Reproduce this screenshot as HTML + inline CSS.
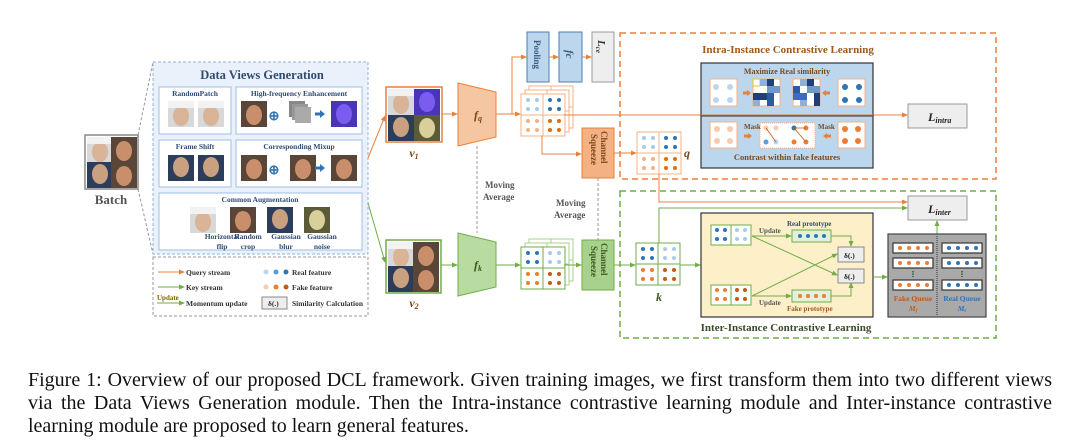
<!DOCTYPE html>
<html><head><meta charset="utf-8"><style>
body{margin:0;background:#fff;width:1080px;height:447px;overflow:hidden;position:relative}
svg{position:absolute;left:0;top:0}
.cap{position:absolute;left:28px;width:1024px;font-family:"Liberation Serif",serif;font-size:20px;line-height:23px;color:#111;white-space:nowrap}
.j{text-align:justify;text-align-last:justify;white-space:normal}
text{font-family:"Liberation Serif",serif;font-weight:bold}
</style></head><body>
<svg width="1080" height="447" viewBox="0 0 1080 447">
<defs>
<marker id="ao" markerWidth="6" markerHeight="6" refX="5" refY="3" orient="auto" markerUnits="userSpaceOnUse"><path d="M0,0.5L6,3L0,5.5z" fill="#e8803c"/></marker>
<marker id="ag" markerWidth="6" markerHeight="6" refX="5" refY="3" orient="auto" markerUnits="userSpaceOnUse"><path d="M0,0.5L6,3L0,5.5z" fill="#70ad47"/></marker>
<g id="gq">
<rect x="0" y="0" width="44" height="42" fill="#fff" stroke="currentColor" stroke-width="1"/>
<line x1="22" y1="0" x2="22" y2="42" stroke="currentColor"/><line x1="0" y1="21" x2="44" y2="21" stroke="currentColor"/>
<g fill="#a9cbe9"><circle cx="7" cy="6" r="2"/><circle cx="16" cy="6" r="2"/><circle cx="7" cy="15" r="2"/><circle cx="16" cy="15" r="2"/></g>
<g fill="#2e75b6"><circle cx="29" cy="6" r="2"/><circle cx="38" cy="6" r="2"/><circle cx="29" cy="15" r="2"/><circle cx="38" cy="15" r="2"/></g>
<g fill="#f4b183"><circle cx="7" cy="27" r="2"/><circle cx="16" cy="27" r="2"/><circle cx="7" cy="36" r="2"/><circle cx="16" cy="36" r="2"/></g>
<g fill="#e46c0a"><circle cx="29" cy="27" r="2"/><circle cx="38" cy="27" r="2"/><circle cx="29" cy="36" r="2"/><circle cx="38" cy="36" r="2"/></g>
</g>
<g id="gk">
<rect x="0" y="0" width="44" height="42" fill="#fff" stroke="currentColor" stroke-width="1"/>
<line x1="22" y1="0" x2="22" y2="42" stroke="currentColor"/><line x1="0" y1="21" x2="44" y2="21" stroke="currentColor"/>
<g fill="#2e75b6"><circle cx="7" cy="6" r="2"/><circle cx="16" cy="6" r="2"/><circle cx="7" cy="15" r="2"/><circle cx="16" cy="15" r="2"/></g>
<g fill="#a9cbe9"><circle cx="29" cy="6" r="2"/><circle cx="38" cy="6" r="2"/><circle cx="29" cy="15" r="2"/><circle cx="38" cy="15" r="2"/></g>
<g fill="#ed7d31"><circle cx="7" cy="27" r="2"/><circle cx="16" cy="27" r="2"/><circle cx="7" cy="36" r="2"/><circle cx="16" cy="36" r="2"/></g>
<g fill="#c55a11"><circle cx="29" cy="27" r="2"/><circle cx="38" cy="27" r="2"/><circle cx="29" cy="36" r="2"/><circle cx="38" cy="36" r="2"/></g>
</g>
<g id="fA"><rect width="26" height="26" fill="#d8d8d8"/><ellipse cx="13" cy="15" rx="8" ry="10" fill="#d9b497"/><rect y="0" width="26" height="7" fill="#f2f2f2"/></g>
<g id="fB"><rect width="26" height="26" fill="#5a4638"/><ellipse cx="13" cy="14" rx="8" ry="10" fill="#c98f6c"/></g>
<g id="fC"><rect width="26" height="26" fill="#2c3d5c"/><ellipse cx="13" cy="12" rx="8" ry="10" fill="#c9a080"/></g>
<g id="fD"><rect width="26" height="26" fill="#4a35b8"/><ellipse cx="13" cy="13" rx="8" ry="10" fill="#7a5cf0"/></g>
<g id="fE"><rect width="26" height="26" fill="#5b5b3a"/><ellipse cx="13" cy="13" rx="8" ry="10" fill="#d9cf9a"/></g>
</defs>

<!-- Batch -->
<rect x="85" y="135" width="53" height="54" fill="#fff" stroke="#888" stroke-width="1.5"/>
<use href="#fA" x="87" y="137"/><use href="#fB" x="111" y="137"/><use href="#fC" x="87" y="162"/><use href="#fB" x="111" y="162"/>
<text x="111" y="204" font-size="13" text-anchor="middle" fill="#555">Batch</text>
<line x1="138" y1="135" x2="153" y2="62" stroke="#999" stroke-dasharray="3,2"/>
<line x1="138" y1="189" x2="153" y2="254" stroke="#999" stroke-dasharray="3,2"/>

<!-- Data views -->
<rect x="153" y="62" width="215" height="192" fill="#eaf1fa" stroke="#8db3dc" stroke-dasharray="3,2"/>
<text x="262" y="79" font-size="12.5" text-anchor="middle" fill="#2f4b72">Data Views Generation</text>
<g fill="#fff" stroke="#9dc0e6">
<rect x="159" y="87" width="72" height="47"/><rect x="236" y="87" width="126" height="47"/>
<rect x="159" y="140" width="72" height="47"/><rect x="236" y="140" width="126" height="47"/>
<rect x="159" y="193" width="203" height="57"/></g>
<g font-size="7.5" fill="#2f4b72" text-anchor="middle">
<text x="195" y="96">RandomPatch</text><text x="299" y="96">High-frequency Enhancement</text>
<text x="195" y="149">Frame Shift</text><text x="299" y="149">Corresponding Mixup</text>
<text x="260" y="202">Common Augmentation</text>
<text x="222" y="239">Horizontal</text><text x="222" y="249">flip</text>
<text x="248" y="239">Random</text><text x="248" y="249">crop</text>
<text x="286" y="239">Gaussian</text><text x="286" y="249">blur</text>
<text x="322" y="239">Gaussian</text><text x="322" y="249">noise</text></g>
<use href="#fA" x="168" y="101"/><use href="#fA" x="198" y="101"/>
<use href="#fB" x="241" y="101"/><text x="274" y="120" font-size="13" fill="#2e75b6" font-weight="normal" text-anchor="middle">⊕</text>
<rect x="289" y="101" width="16" height="16" fill="#888"/><rect x="292" y="104" width="16" height="16" fill="#999"/><rect x="295" y="107" width="16" height="16" fill="#aaa"/>
<path d="M315,114h6" stroke="#2e75b6" stroke-width="3"/><path d="M320,110l5,4l-5,4z" fill="#2e75b6"/>
<use href="#fD" x="331" y="101"/>
<use href="#fC" x="168" y="155"/><use href="#fC" x="198" y="155"/>
<use href="#fB" x="241" y="155"/><text x="274" y="174" font-size="13" fill="#2e75b6" font-weight="normal" text-anchor="middle">⊕</text>
<use href="#fB" x="290" y="155"/><path d="M315,168h6" stroke="#2e75b6" stroke-width="3"/><path d="M320,164l5,4l-5,4z" fill="#2e75b6"/>
<use href="#fB" x="331" y="155"/>
<use href="#fA" x="190" y="207"/><use href="#fB" x="230" y="207"/><use href="#fC" x="267" y="207"/><use href="#fE" x="304" y="207"/>

<!-- legend -->
<rect x="153" y="257" width="215" height="59" fill="#fff" stroke="#999" stroke-dasharray="3,2"/>
<g font-size="7.5" fill="#333">
<line x1="158" y1="272" x2="184" y2="272" stroke="#e8803c" marker-end="url(#ao)"/><text x="186" y="275">Query stream</text>
<line x1="158" y1="287" x2="184" y2="287" stroke="#70ad47" marker-end="url(#ag)"/><text x="186" y="290">Key stream</text>
<text x="157" y="300" fill="#7f6000" font-size="7">Update</text><line x1="157" y1="303" x2="184" y2="303" stroke="#70ad47" marker-end="url(#ag)"/><text x="186" y="306">Momentum update</text>
<circle cx="266" cy="272" r="2.5" fill="#bcd6ee"/><circle cx="276" cy="272" r="2.5" fill="#5b9bd5"/><circle cx="286" cy="272" r="2.5" fill="#2e75b6"/><text x="292" y="275">Real feature</text>
<circle cx="266" cy="287" r="2.5" fill="#f8cbad"/><circle cx="276" cy="287" r="2.5" fill="#ed7d31"/><circle cx="286" cy="287" r="2.5" fill="#c55a11"/><text x="292" y="290">Fake feature</text>
<rect x="262" y="297" width="25" height="12" fill="#eee" stroke="#888"/><text x="268" y="306">δ(.)</text><text x="292" y="306">Similarity Calculation</text></g>

<!-- to v1 v2 -->
<line x1="368" y1="158" x2="385" y2="116" stroke="#e8803c" marker-end="url(#ao)"/>
<line x1="368" y1="203" x2="385" y2="262" stroke="#70ad47" marker-end="url(#ag)"/>
<rect x="386" y="87" width="56" height="55" fill="#fff" stroke="#e8803c" stroke-width="1.5"/>
<use href="#fA" x="388" y="89"/><use href="#fD" x="414" y="89"/><use href="#fC" x="388" y="115"/><use href="#fE" x="414" y="115"/>
<text x="414" y="157" font-size="12" font-style="italic" text-anchor="middle" fill="#7a4a1a">v<tspan font-size="8" dy="2">1</tspan></text>
<rect x="386" y="240" width="55" height="53" fill="#fff" stroke="#70ad47" stroke-width="1.5"/>
<use href="#fA" x="388" y="242"/><use href="#fB" x="413" y="242"/><use href="#fC" x="388" y="266"/><use href="#fB" x="413" y="266"/>
<text x="414" y="307" font-size="12" font-style="italic" text-anchor="middle" fill="#7a4a1a">v<tspan font-size="8" dy="2">2</tspan></text>

<!-- encoders -->
<line x1="442" y1="114" x2="457" y2="114" stroke="#e8803c" marker-end="url(#ao)"/>
<line x1="441" y1="265" x2="457" y2="265" stroke="#70ad47" marker-end="url(#ag)"/>
<path d="M458,83L496,92L496,137L458,146z" fill="#f6c6a3" stroke="#e8803c"/>
<text x="474" y="119" font-size="12" font-style="italic" fill="#7a4a1a">f<tspan font-size="8" dy="2">q</tspan></text>
<path d="M458,233L496,242L496,287L458,296z" fill="#b7dba0" stroke="#70ad47"/>
<text x="474" y="269" font-size="12" font-style="italic" fill="#3d5a1f">f<tspan font-size="8" dy="2">k</tspan></text>
<line x1="477" y1="146" x2="477" y2="233" stroke="#999" stroke-dasharray="3,2"/>
<text x="485" y="188" font-size="9" fill="#555">Moving</text><text x="483" y="200" font-size="9" fill="#555">Average</text>
<line x1="598" y1="178" x2="598" y2="240" stroke="#999" stroke-dasharray="3,2"/>
<text x="556" y="206" font-size="9" fill="#555">Moving</text><text x="554" y="218" font-size="9" fill="#555">Average</text>

<!-- query branch -->
<path d="M496,114H520" stroke="#e8803c" fill="none" marker-end="url(#ao)"/>
<path d="M512,114V57H526" stroke="#e8803c" fill="none" marker-end="url(#ao)"/>
<rect x="527" y="32" width="22" height="50" fill="#bcd6ee" stroke="#4a7fb5"/>
<text transform="translate(534,40) rotate(90)" font-size="9" fill="#3a5a80">Pooling</text>
<line x1="549" y1="57" x2="558" y2="57" stroke="#e8803c" marker-end="url(#ao)"/>
<rect x="559" y="32" width="23" height="50" fill="#bcd6ee" stroke="#4a7fb5"/>
<text transform="translate(566,50) rotate(90)" font-size="11" font-style="italic" fill="#3a5a80">fc</text>
<line x1="582" y1="57" x2="591" y2="57" stroke="#e8803c" marker-end="url(#ao)"/>
<rect x="592" y="32" width="22" height="50" fill="#eee" stroke="#999"/>
<text transform="translate(598,40) rotate(90)" font-size="11" font-style="italic" fill="#333">L<tspan font-size="7" dy="2">ce</tspan></text>

<use href="#gq" x="529" y="86" color="#f4b183"/><use href="#gq" x="525" y="90" color="#f4b183"/><use href="#gq" x="521" y="94" color="#f4b183"/>
<line x1="564" y1="115" x2="907" y2="115" stroke="#e8803c" marker-end="url(#ao)"/>
<path d="M542,136V154H581" stroke="#e8803c" fill="none" marker-end="url(#ao)"/>
<rect x="582" y="128" width="32" height="50" fill="#f4b183" stroke="#e8803c"/>
<text transform="translate(601,131) rotate(90)" font-size="9" fill="#7a4a1a">Channel</text>
<text transform="translate(591,134) rotate(90)" font-size="9" fill="#7a4a1a">Squeeze</text>
<line x1="614" y1="153" x2="636" y2="153" stroke="#e8803c" marker-end="url(#ao)"/>
<use href="#gq" x="637" y="132" color="#f4b183"/>
<text x="684" y="157" font-size="12" font-style="italic" fill="#7a4a1a">q</text>
<path d="M659,174V202H907" stroke="#e8803c" fill="none" marker-end="url(#ao)"/>

<!-- key branch -->
<line x1="496" y1="265" x2="520" y2="265" stroke="#70ad47" marker-end="url(#ag)"/>
<use href="#gk" x="529" y="239" color="#a9d18e"/><use href="#gk" x="525" y="243" color="#a9d18e"/><use href="#gk" x="521" y="247" color="#70ad47"/>
<line x1="564" y1="265" x2="581" y2="265" stroke="#70ad47" marker-end="url(#ag)"/>
<rect x="582" y="240" width="32" height="50" fill="#a9d18e" stroke="#70ad47"/>
<text transform="translate(601,243) rotate(90)" font-size="9" fill="#3d5a1f">Channel</text>
<text transform="translate(591,246) rotate(90)" font-size="9" fill="#3d5a1f">Squeeze</text>
<line x1="614" y1="265" x2="635" y2="265" stroke="#70ad47" marker-end="url(#ag)"/>
<use href="#gk" x="636" y="243" color="#70ad47"/>
<text x="656" y="301" font-size="12" font-style="italic" fill="#3d5a1f">k</text>
<path d="M659,243V208H907" stroke="#70ad47" fill="none" marker-end="url(#ag)"/>
<line x1="680" y1="265" x2="700" y2="265" stroke="#70ad47" marker-end="url(#ag)"/>

<!-- intra -->
<rect x="620" y="33" width="376" height="146" fill="none" stroke="#e8803c" stroke-width="1.5" stroke-dasharray="6,4"/>
<text x="788" y="53" font-size="11" text-anchor="middle" fill="#9c5b1f">Intra-Instance Contrastive Learning</text>
<rect x="701" y="63" width="172" height="105" fill="#bcd6ee" stroke="#333" stroke-width="1.2"/>
<line x1="701" y1="116" x2="873" y2="116" stroke="#333"/>
<line x1="701" y1="115" x2="873" y2="115" stroke="#e8803c"/>
<text x="787" y="74" font-size="8" text-anchor="middle" fill="#7a4a1a">Maximize Real similarity</text>
<g stroke="#f4b183" fill="#fff"><rect x="710" y="79" width="27" height="27"/><rect x="838" y="79" width="27" height="27"/></g>
<g><rect x="753" y="79" width="27" height="27" fill="#fff" stroke="#f4b183"/>
<rect x="753" y="79" width="7" height="7" fill="#fff" stroke="#f2c200"/><rect x="760" y="79" width="7" height="7" fill="#8fb0d8"/><rect x="767" y="79" width="7" height="7" fill="#1f3f7a"/><rect x="767" y="86" width="13" height="7" fill="#6f98cc"/><rect x="753" y="93" width="14" height="7" fill="#1f3f7a"/><rect x="767" y="93" width="7" height="13" fill="#2d5aa0"/><rect x="753" y="100" width="7" height="6" fill="#8fb0d8"/>
<rect x="793" y="79" width="27" height="27" fill="#fff" stroke="#f4b183"/>
<rect x="800" y="79" width="7" height="7" fill="#8fb0d8"/><rect x="807" y="79" width="7" height="7" fill="#1f3f7a"/><rect x="793" y="86" width="7" height="7" fill="#2d5aa0"/><rect x="807" y="86" width="13" height="7" fill="#6f98cc"/><rect x="793" y="93" width="14" height="7" fill="#3b6cc0"/><rect x="814" y="93" width="6" height="13" fill="#1f3f7a"/><rect x="800" y="100" width="7" height="6" fill="#8fb0d8"/></g>
<g fill="#bcd6ee"><circle cx="716" cy="87" r="3"/><circle cx="730" cy="87" r="3"/><circle cx="716" cy="100" r="3"/><circle cx="730" cy="100" r="3"/></g>
<g fill="#2e75b6"><circle cx="845" cy="87" r="3"/><circle cx="859" cy="87" r="3"/><circle cx="845" cy="100" r="3"/><circle cx="859" cy="100" r="3"/></g>
<path d="M743,93h5" stroke="#e8803c" stroke-width="3"/><path d="M747,90l4,3l-4,3z" fill="#e8803c"/>
<path d="M830,93h-5" stroke="#e8803c" stroke-width="3"/><path d="M826,90l-4,3l4,3z" fill="#e8803c"/>
<g stroke="#f4b183" fill="#fff"><rect x="710" y="122" width="27" height="26"/><rect x="838" y="122" width="27" height="26"/><rect x="760" y="123" width="55" height="25" stroke-dasharray="1,1"/></g>
<g fill="#f8cbad"><circle cx="717" cy="129" r="3"/><circle cx="730" cy="129" r="3"/><circle cx="717" cy="141" r="3"/><circle cx="730" cy="141" r="3"/></g>
<g fill="#ed7d31"><circle cx="845" cy="129" r="3"/><circle cx="858" cy="129" r="3"/><circle cx="845" cy="141" r="3"/><circle cx="858" cy="141" r="3"/></g>
<g><circle cx="766" cy="128" r="2.5" fill="#f8cbad"/><circle cx="776" cy="128" r="2.5" fill="#f8cbad"/><circle cx="766" cy="142" r="2.5" fill="#5b9bd5"/><circle cx="776" cy="142" r="2.5" fill="#bcd6ee"/>
<circle cx="794" cy="128" r="2.5" fill="#2e75b6"/><circle cx="806" cy="128" r="2.5" fill="#ed7d31"/><circle cx="794" cy="142" r="2.5" fill="#ed7d31"/><circle cx="806" cy="142" r="2.5" fill="#ed7d31"/>
<path d="M766,128L776,142M794,128L806,142M794,128H806" stroke="#c55a11" stroke-width="0.8"/></g>
<text x="744" y="129" font-size="7" fill="#7a4a1a">Mask</text><text x="818" y="129" font-size="7" fill="#7a4a1a">Mask</text>
<path d="M744,136h5" stroke="#e8803c" stroke-width="3"/><path d="M748,133l4,3l-4,3z" fill="#e8803c"/>
<path d="M831,136h-5" stroke="#e8803c" stroke-width="3"/><path d="M827,133l-4,3l4,3z" fill="#e8803c"/>
<text x="787" y="160" font-size="8.5" text-anchor="middle" fill="#7a4a1a">Contrast within fake features</text>
<rect x="908" y="104" width="59" height="24" fill="#eee" stroke="#999"/>
<text x="928" y="121" font-size="12" font-style="italic" fill="#222">L<tspan font-size="8" dy="2">intra</tspan></text>

<!-- inter -->
<rect x="620" y="191" width="376" height="147" fill="none" stroke="#70ad47" stroke-width="1.5" stroke-dasharray="6,4"/>
<rect x="908" y="196" width="59" height="24" fill="#eee" stroke="#999"/>
<text x="928" y="213" font-size="12" font-style="italic" fill="#222">L<tspan font-size="8" dy="2">inter</tspan></text>
<rect x="701" y="213" width="172" height="104" fill="#fdf0c8" stroke="#333" stroke-width="1.2"/>
<rect x="711" y="285" width="40" height="20" fill="#fff" stroke="#70ad47"/><line x1="731" y1="285" x2="731" y2="305" stroke="#70ad47"/>
<g fill="#ed7d31"><circle cx="717" cy="290" r="2"/><circle cx="725" cy="290" r="2"/><circle cx="717" cy="299" r="2"/><circle cx="725" cy="299" r="2"/></g>
<g fill="#c55a11"><circle cx="737" cy="290" r="2"/><circle cx="745" cy="290" r="2"/><circle cx="737" cy="299" r="2"/><circle cx="745" cy="299" r="2"/></g>
<rect x="711" y="225" width="40" height="20" fill="#fff" stroke="#70ad47"/><line x1="731" y1="225" x2="731" y2="245" stroke="#70ad47"/>
<g fill="#2e75b6"><circle cx="717" cy="230" r="2"/><circle cx="725" cy="230" r="2"/><circle cx="717" cy="239" r="2"/><circle cx="725" cy="239" r="2"/></g>
<g fill="#a9cbe9"><circle cx="737" cy="230" r="2"/><circle cx="745" cy="230" r="2"/><circle cx="737" cy="239" r="2"/><circle cx="745" cy="239" r="2"/></g>
<g stroke="#70ad47" fill="none">
<path d="M752,236H791" marker-end="url(#ag)"/><path d="M752,296H791" marker-end="url(#ag)"/>
<path d="M831,236H851V246" marker-end="url(#ag)"/><path d="M831,296H851V283" marker-end="url(#ag)"/>
<path d="M752,236L837,275" marker-end="url(#ag)"/><path d="M752,296L837,254" marker-end="url(#ag)"/>
<path d="M873,277H887" marker-end="url(#ag)"/><path d="M937,234V221" marker-end="url(#ag)"/></g>
<rect x="792" y="230" width="39" height="12" fill="#e2efd9" stroke="#70ad47"/>
<g fill="#2e75b6"><circle cx="800" cy="236" r="2"/><circle cx="808" cy="236" r="2"/><circle cx="816" cy="236" r="2"/><circle cx="824" cy="236" r="2"/></g>
<rect x="792" y="290" width="39" height="12" fill="#e2efd9" stroke="#70ad47"/>
<g fill="#ed7d31"><circle cx="800" cy="296" r="2"/><circle cx="808" cy="296" r="2"/><circle cx="816" cy="296" r="2"/><circle cx="824" cy="296" r="2"/></g>
<text x="759" y="233" font-size="7" fill="#555">Update</text><text x="759" y="305" font-size="7" fill="#555">Update</text>
<text x="787" y="226" font-size="7" fill="#2f4b72">Real prototype</text><text x="787" y="311" font-size="7" fill="#9c5b1f">Fake prototype</text>
<rect x="838" y="247" width="26" height="15" fill="#eee" stroke="#888"/><text x="844" y="258" font-size="7.5" fill="#222">δ(.)</text>
<rect x="838" y="269" width="26" height="14" fill="#eee" stroke="#888"/><text x="844" y="279" font-size="7.5" fill="#222">δ(.)</text>
<rect x="888" y="234" width="98" height="83" fill="#a9a9a9" stroke="#444" stroke-width="1.2"/>
<line x1="937" y1="236" x2="937" y2="316" stroke="#333" stroke-dasharray="1,1"/>
<g fill="#fff" stroke="#333" stroke-width="1.2">
<rect x="893" y="243" width="40" height="10"/><rect x="893" y="258" width="40" height="10"/><rect x="893" y="280" width="40" height="10"/>
<rect x="942" y="243" width="40" height="10"/><rect x="942" y="258" width="40" height="10"/><rect x="942" y="280" width="40" height="10"/></g>
<g fill="#ed7d31"><circle cx="900" cy="248" r="2"/><circle cx="909" cy="248" r="2"/><circle cx="918" cy="248" r="2"/><circle cx="927" cy="248" r="2"/>
<circle cx="900" cy="263" r="2"/><circle cx="909" cy="263" r="2"/><circle cx="918" cy="263" r="2"/><circle cx="927" cy="263" r="2"/>
<circle cx="900" cy="285" r="2"/><circle cx="909" cy="285" r="2"/><circle cx="918" cy="285" r="2"/><circle cx="927" cy="285" r="2"/></g>
<g fill="#2e75b6"><circle cx="949" cy="248" r="2"/><circle cx="958" cy="248" r="2"/><circle cx="967" cy="248" r="2"/><circle cx="976" cy="248" r="2"/>
<circle cx="949" cy="263" r="2"/><circle cx="958" cy="263" r="2"/><circle cx="967" cy="263" r="2"/><circle cx="976" cy="263" r="2"/>
<circle cx="949" cy="285" r="2"/><circle cx="958" cy="285" r="2"/><circle cx="967" cy="285" r="2"/><circle cx="976" cy="285" r="2"/></g>
<path d="M913,271v6M962,271v6" stroke="#2e5a2e" stroke-width="1.5" stroke-dasharray="1.5,1"/>
<text x="913" y="301" font-size="7.5" text-anchor="middle" fill="#c55a11">Fake Queue</text>
<text x="913" y="311" font-size="7.5" font-style="italic" text-anchor="middle" fill="#c55a11">M<tspan font-size="5" dy="1">f</tspan></text>
<text x="962" y="301" font-size="7.5" text-anchor="middle" fill="#2e75b6">Real Queue</text>
<text x="962" y="311" font-size="7.5" font-style="italic" text-anchor="middle" fill="#2e75b6">M<tspan font-size="5" dy="1">r</tspan></text>
<text x="786" y="331" font-size="11" text-anchor="middle" fill="#3d4a2a">Inter-Instance Contrastive Learning</text>
</svg>
<div class="cap j" style="top:369px">Figure 1: Overview of our proposed DCL framework. Given training images, we first transform them into two different views</div>
<div class="cap j" style="top:392px">via the Data Views Generation module. Then the Intra-instance contrastive learning module and Inter-instance contrastive</div>
<div class="cap" style="top:415px">learning module are proposed to learn general features.</div>
</body></html>
